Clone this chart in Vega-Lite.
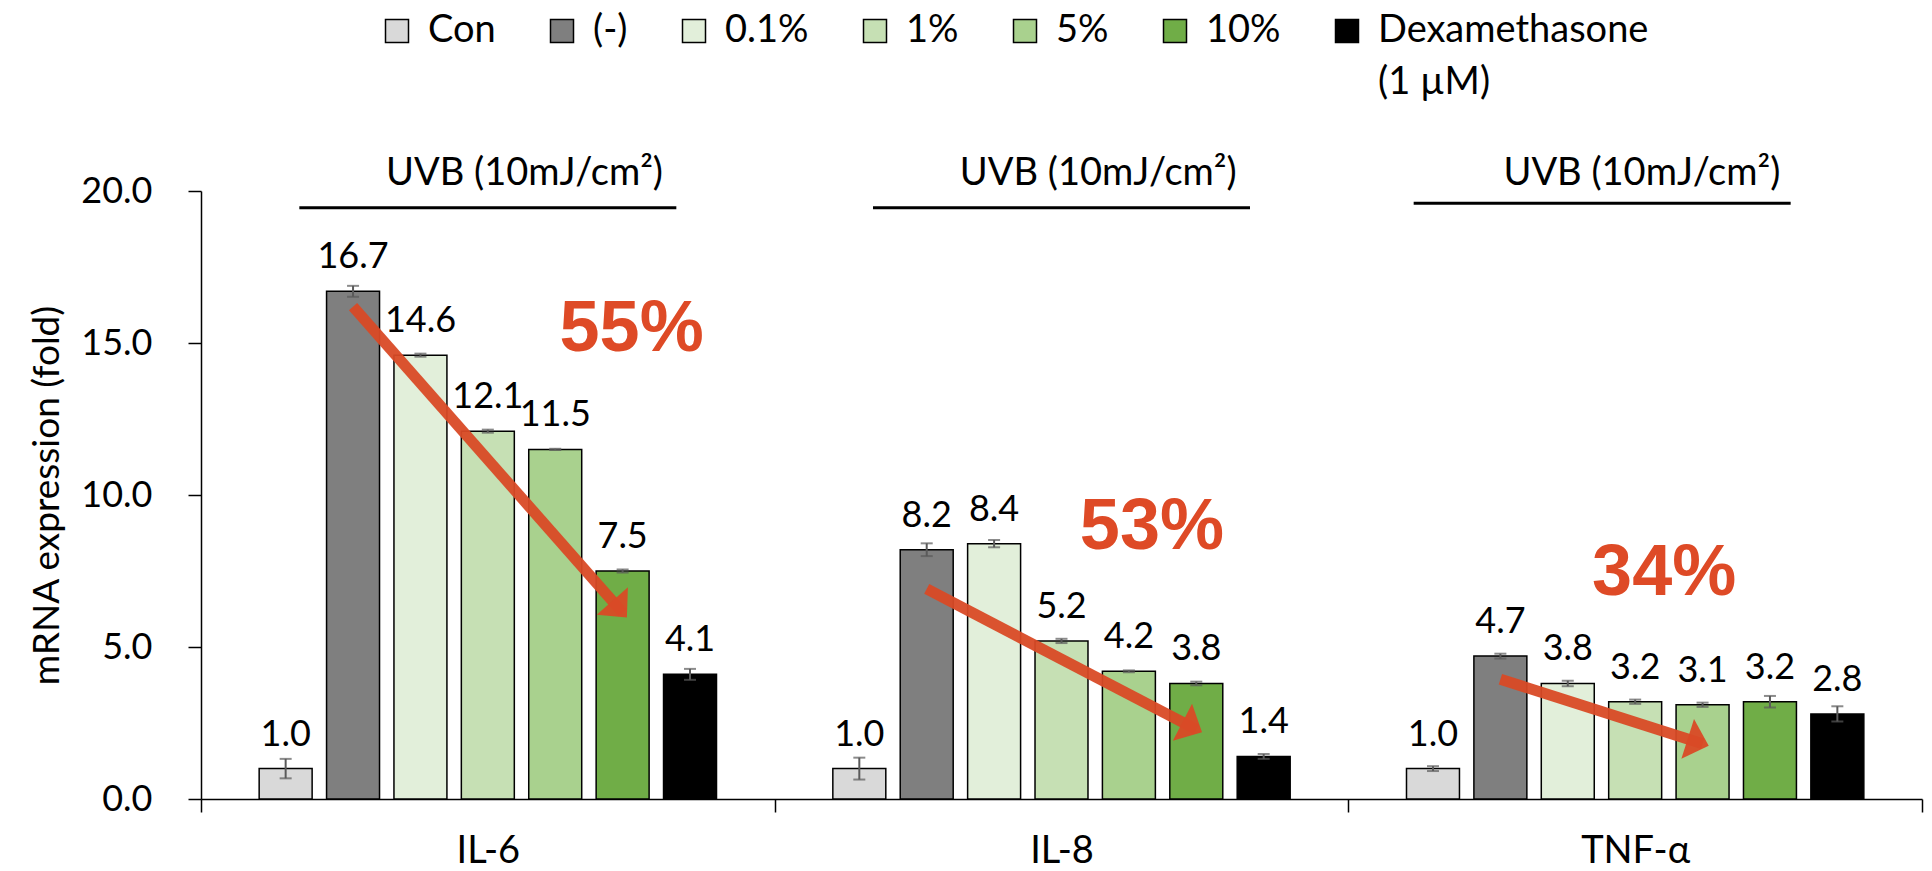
{
  "$schema": "https://vega.github.io/schema/vega-lite/v6.json",
  "width": 1721,
  "height": 608,
  "autosize": {"type": "none"},
  "padding": {"left": 201, "top": 191, "right": 10, "bottom": 72},
  "background": "white",
  "config": {
    "view": {"stroke": null},
    "font": "Lato",
    "legend": {"padding": 0},
    "style": {"guide-label": {"lineHeight": 52}}
  },
  "datasets": {
    "bars": [
      {"gene": "IL-6", "treatment": "Con", "value": 1.0, "sd": 0.32},
      {"gene": "IL-6", "treatment": "(-)", "value": 16.7, "sd": 0.18},
      {"gene": "IL-6", "treatment": "0.1%", "value": 14.6, "sd": 0.05},
      {"gene": "IL-6", "treatment": "1%", "value": 12.1, "sd": 0.05},
      {"gene": "IL-6", "treatment": "5%", "value": 11.5, "sd": 0.02},
      {"gene": "IL-6", "treatment": "10%", "value": 7.5, "sd": 0.05},
      {"gene": "IL-6", "treatment": "Dexamethasone (1 µM)", "value": 4.1, "sd": 0.18},
      {"gene": "IL-8", "treatment": "Con", "value": 1.0, "sd": 0.36},
      {"gene": "IL-8", "treatment": "(-)", "value": 8.2, "sd": 0.21},
      {"gene": "IL-8", "treatment": "0.1%", "value": 8.4, "sd": 0.12},
      {"gene": "IL-8", "treatment": "1%", "value": 5.2, "sd": 0.07},
      {"gene": "IL-8", "treatment": "5%", "value": 4.2, "sd": 0.03},
      {"gene": "IL-8", "treatment": "10%", "value": 3.8, "sd": 0.06},
      {"gene": "IL-8", "treatment": "Dexamethasone (1 µM)", "value": 1.4, "sd": 0.08},
      {"gene": "TNF-α", "treatment": "Con", "value": 1.0, "sd": 0.08},
      {"gene": "TNF-α", "treatment": "(-)", "value": 4.7, "sd": 0.08},
      {"gene": "TNF-α", "treatment": "0.1%", "value": 3.8, "sd": 0.09},
      {"gene": "TNF-α", "treatment": "1%", "value": 3.2, "sd": 0.07},
      {"gene": "TNF-α", "treatment": "5%", "value": 3.1, "sd": 0.07},
      {"gene": "TNF-α", "treatment": "10%", "value": 3.2, "sd": 0.19},
      {"gene": "TNF-α", "treatment": "Dexamethasone (1 µM)", "value": 2.8, "sd": 0.25}
    ],
    "arrows": [
      {"gene": "IL-6", "treatment": "(-)", "end": false, "value": 16.2},
      {"gene": "IL-6", "treatment": "10%", "end": true, "value": 6.13},
      {"gene": "IL-8", "treatment": "(-)", "end": false, "value": 6.91},
      {"gene": "IL-8", "treatment": "10%", "end": true, "value": 2.29},
      {"gene": "TNF-α", "treatment": "(-)", "end": false, "value": 3.94},
      {"gene": "TNF-α", "treatment": "5%", "end": true, "value": 1.82}
    ],
    "notes": [
      {"gene": "IL-6", "treatment": "10%", "value": 15.46, "label": "55%"},
      {"gene": "IL-8", "treatment": "5%", "value": 8.95, "label": "53%"},
      {"gene": "TNF-α", "treatment": "1%", "value": 7.44, "label": "34%"}
    ],
    "uvb": [
      {"gene": "IL-6", "kind": "text", "value": 20.57, "label": "UVB (10mJ/cm²)"},
      {"gene": "IL-8", "kind": "text", "value": 20.57, "label": "UVB (10mJ/cm²)"},
      {"gene": "TNF-α", "kind": "text", "value": 20.57, "label": "UVB (10mJ/cm²)"},
      {"gene": "IL-6", "kind": "line", "value": 19.45},
      {"gene": "IL-8", "kind": "line", "value": 19.45},
      {"gene": "TNF-α", "kind": "line", "value": 19.6}
    ]
  },
  "layer": [
    {
      "data": {"name": "bars"},
      "mark": {"type": "bar", "stroke": "black", "strokeWidth": 1.5},
      "encoding": {
        "x": {"field": "gene", "type": "nominal",
          "scale": {"domain": ["IL-6", "IL-8", "TNF-α"], "paddingInner": 0, "paddingOuter": 0},
          "axis": {"title": null, "labelAngle": 0, "labelFont": "Lato", "labelFontSize": 38, "labelColor": "black",
            "labelPadding": 20, "tickBand": "extent", "tickSize": 13, "tickColor": "black", "tickWidth": 1.5,
            "domainColor": "black", "domainWidth": 1.5}},
        "xOffset": {"field": "treatment", "type": "nominal",
          "scale": {"domain": ["Con", "(-)", "0.1%", "1%", "5%", "10%", "Dexamethasone (1 µM)"], "paddingInner": 0.214, "paddingOuter": 0.863}},
        "y": {"field": "value", "type": "quantitative", "title": "mRNA expression (fold)",
          "scale": {"domain": [0, 20], "nice": false},
          "axis": {"title": "mRNA expression (fold)", "values": [0, 5, 10, 15, 20], "format": ".1f",
            "labelFont": "Lato", "labelFontSize": 36, "labelColor": "black", "labelPadding": 36,
            "tickSize": 13, "tickColor": "black", "tickWidth": 1.5, "domainColor": "black", "domainWidth": 1.5,
            "grid": false, "titleFont": "Lato", "titleFontSize": 37, "titleFontWeight": "normal", "titleColor": "black",
            "titleX": -154, "titleY": 304, "titleAngle": -90, "titleAlign": "center", "titleBaseline": "middle"}},
        "color": {"field": "treatment", "type": "nominal",
          "scale": {"domain": ["Con", "(-)", "0.1%", "1%", "5%", "10%", "Dexamethasone (1 µM)"],
            "range": ["#D9D9D9", "#7F7F7F", "#E2EFDA", "#C6E0B4", "#A9D18E", "#70AD47", "#000000"]},
          "legend": {"title": null, "orient": "none", "legendX": 177, "legendY": -179, "direction": "horizontal",
            "symbolType": "square", "symbolSize": 529, "symbolStrokeColor": "black", "symbolStrokeWidth": 1.5, "symbolOpacity": 1,
            "labelFont": "Lato", "labelFontSize": 38, "labelColor": "black", "labelOffset": 12, "labelLimit": 500,
            "labelBaseline": "middle", "columnPadding": 47,
            "labelExpr": "datum.label == 'Dexamethasone (1 µM)' ? ['Dexamethasone', '(1 µM)'] : [datum.label, '']"}}
      }
    },
    {
      "data": {"name": "bars"},
      "mark": {"type": "errorbar", "ticks": true, "size": 12, "thickness": 2, "color": "#5a5a5a"},
      "encoding": {
        "x": {"field": "gene", "type": "nominal", "scale": {"domain": ["IL-6", "IL-8", "TNF-α"], "paddingInner": 0, "paddingOuter": 0}},
        "xOffset": {"field": "treatment", "type": "nominal",
          "scale": {"domain": ["Con", "(-)", "0.1%", "1%", "5%", "10%", "Dexamethasone (1 µM)"], "paddingInner": 0.214, "paddingOuter": 0.863}},
        "y": {"field": "value", "type": "quantitative", "title": "mRNA expression (fold)", "scale": {"domain": [0, 20], "nice": false}},
        "yError": {"field": "sd"}
      }
    },
    {
      "data": {"name": "bars"},
      "mark": {"type": "text", "baseline": "middle", "align": "center", "dy": -34, "font": "Lato", "fontSize": 36, "color": "black"},
      "encoding": {
        "x": {"field": "gene", "type": "nominal", "scale": {"domain": ["IL-6", "IL-8", "TNF-α"], "paddingInner": 0, "paddingOuter": 0}},
        "xOffset": {"field": "treatment", "type": "nominal",
          "scale": {"domain": ["Con", "(-)", "0.1%", "1%", "5%", "10%", "Dexamethasone (1 µM)"], "paddingInner": 0.214, "paddingOuter": 0.863}},
        "y": {"field": "value", "type": "quantitative", "title": "mRNA expression (fold)", "scale": {"domain": [0, 20], "nice": false}},
        "text": {"field": "value", "type": "quantitative", "format": ".1f"}
      }
    },
    {
      "data": {"name": "arrows"},
      "mark": {"type": "line", "color": "#D94A26", "strokeWidth": 11, "strokeCap": "butt", "opacity": 0.95},
      "encoding": {
        "x": {"field": "gene", "type": "nominal", "scale": {"domain": ["IL-6", "IL-8", "TNF-α"], "paddingInner": 0, "paddingOuter": 0}},
        "xOffset": {"field": "treatment", "type": "nominal",
          "scale": {"domain": ["Con", "(-)", "0.1%", "1%", "5%", "10%", "Dexamethasone (1 µM)"], "paddingInner": 0.214, "paddingOuter": 0.863}},
        "y": {"field": "value", "type": "quantitative", "title": "mRNA expression (fold)", "scale": {"domain": [0, 20], "nice": false}},
        "detail": {"field": "gene"}
      }
    },
    {
      "data": {"name": "arrows"},
      "transform": [{"filter": "datum.end"}],
      "mark": {"type": "point", "filled": true, "color": "#D94A26", "opacity": 0.95, "size": 1730,
        "shape": "M0.31,0 L-0.75,-1 L-0.75,1 Z", "strokeWidth": 0},
      "encoding": {
        "x": {"field": "gene", "type": "nominal", "scale": {"domain": ["IL-6", "IL-8", "TNF-α"], "paddingInner": 0, "paddingOuter": 0}},
        "xOffset": {"field": "treatment", "type": "nominal",
          "scale": {"domain": ["Con", "(-)", "0.1%", "1%", "5%", "10%", "Dexamethasone (1 µM)"], "paddingInner": 0.214, "paddingOuter": 0.863}},
        "y": {"field": "value", "type": "quantitative", "title": "mRNA expression (fold)", "scale": {"domain": [0, 20], "nice": false}},
        "angle": {"condition": [{"test": "datum.gene === 'IL-6'", "value": 48.6}, {"test": "datum.gene === 'IL-8'", "value": 27.5}], "value": 17.7}
      }
    },
    {
      "data": {"name": "notes"},
      "mark": {"type": "text", "baseline": "middle", "align": "center", "font": "Liberation Sans", "fontWeight": "bold", "fontSize": 72, "color": "#DE4A26",
        "dx": {"expr": "datum.gene === 'IL-6' ? 9 : datum.gene === 'IL-8' ? 23 : 29"}},
      "encoding": {
        "x": {"field": "gene", "type": "nominal", "scale": {"domain": ["IL-6", "IL-8", "TNF-α"], "paddingInner": 0, "paddingOuter": 0}},
        "xOffset": {"field": "treatment", "type": "nominal",
          "scale": {"domain": ["Con", "(-)", "0.1%", "1%", "5%", "10%", "Dexamethasone (1 µM)"], "paddingInner": 0.214, "paddingOuter": 0.863}},
        "y": {"field": "value", "type": "quantitative", "title": "mRNA expression (fold)", "scale": {"domain": [0, 20], "nice": false}},
        "text": {"field": "label"}
      }
    },
    {
      "data": {"name": "uvb"},
      "transform": [{"filter": "datum.kind === 'text'"}],
      "mark": {"type": "text", "baseline": "middle", "align": "center", "font": "Lato", "fontSize": 38, "color": "black",
        "dx": {"expr": "datum.gene === 'TNF-α' ? -30 : 0"}},
      "encoding": {
        "x": {"field": "gene", "type": "nominal", "bandPosition": 0.564, "scale": {"domain": ["IL-6", "IL-8", "TNF-α"], "paddingInner": 0, "paddingOuter": 0}},
        "y": {"field": "value", "type": "quantitative", "title": "mRNA expression (fold)", "scale": {"domain": [0, 20], "nice": false}},
        "text": {"field": "label"}
      }
    },
    {
      "data": {"name": "uvb"},
      "transform": [{"filter": "datum.kind === 'line'"}],
      "mark": {"type": "tick", "orient": "horizontal", "size": 377, "thickness": 3, "color": "black", "opacity": 1,
        "xOffset": {"expr": "datum.gene === 'TNF-α' ? -33 : 0"}},
      "encoding": {
        "x": {"field": "gene", "type": "nominal", "bandPosition": 0.56, "scale": {"domain": ["IL-6", "IL-8", "TNF-α"], "paddingInner": 0, "paddingOuter": 0}},
        "y": {"field": "value", "type": "quantitative", "title": "mRNA expression (fold)", "scale": {"domain": [0, 20], "nice": false}}
      }
    }
  ]
}
